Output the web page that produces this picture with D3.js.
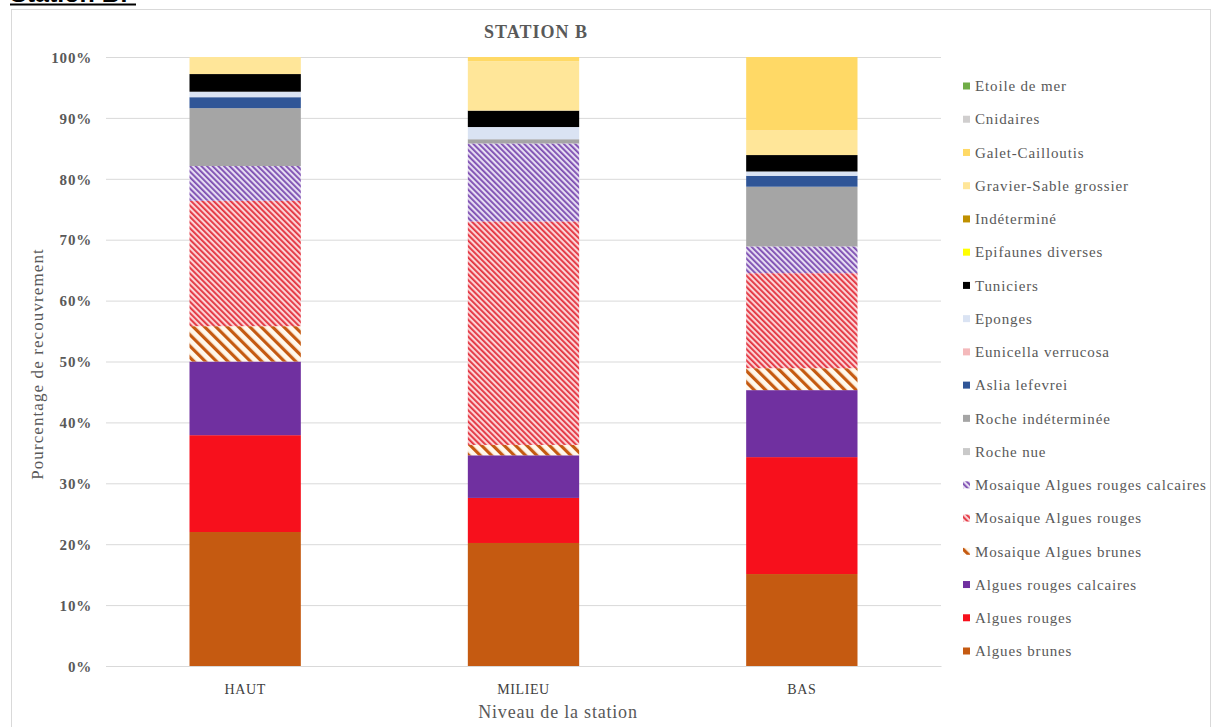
<!DOCTYPE html>
<html>
<head>
<meta charset="utf-8">
<script src="https://cdn.jsdelivr.net/npm/d3@7"></script>
<style>
  html, body { margin: 0; padding: 0; background: #fff; }
  svg { display: block; }
  text { font-family: "Liberation Serif", "DejaVu Serif", serif; }
</style>
</head>
<body>
<svg id="chart" width="1216" height="727"></svg>
<script>
// Station levels
const levels = ["HAUT", "MILIEU", "BAS"];

// Cover percentage per category, one value per level (HAUT, MILIEU, BAS)
const alguesBrunes            = [22.0, 20.2, 15.1];
const alguesRouges            = [15.9, 7.4, 19.2];
const alguesRougesCalcaires   = [12.1, 7.0, 11.0];
const mosaiqueAlguesBrunes    = [5.8, 1.7, 3.6];
const mosaiqueAlguesRouges    = [20.6, 36.7, 15.6];
const mosaiqueAlguesRougesCal = [5.7, 12.8, 4.4];
const rocheNue                = [0, 0, 0];
const rocheIndeterminee       = [9.5, 0.7, 9.8];
const asliaLefevrei           = [1.8, 0, 1.8];
const eunicellaVerrucosa      = [0, 0, 0];
const eponges                 = [0.9, 2.0, 0.7];
const tuniciers               = [2.9, 2.7, 2.7];
const epifaunesDiverses       = [0, 0, 0];
const indetermine             = [0, 0, 0];
const gravierSable            = [2.8, 8.1, 4.1];
const galetCailloutis         = [0, 0.7, 12.0];
const cnidaires               = [0, 0, 0];
const etoileDeMer             = [0, 0, 0];

// Y axis ticks
const yTicks = [0, 10, 20, 30, 40, 50, 60, 70, 80, 90, 100];

// Series in stacking order (bottom to top)
const series = [
  { name: "Algues brunes", values: alguesBrunes, color: "#C55A11" },
  { name: "Algues rouges", values: alguesRouges, color: "#F7101C" },
  { name: "Algues rouges calcaires", values: alguesRougesCalcaires, color: "#7030A0" },
  { name: "Mosaique Algues brunes", values: mosaiqueAlguesBrunes, pattern: "patBrunes" },
  { name: "Mosaique Algues rouges", values: mosaiqueAlguesRouges, pattern: "patRouges" },
  { name: "Mosaique Algues rouges calcaires", values: mosaiqueAlguesRougesCal, pattern: "patCalc" },
  { name: "Roche nue", values: rocheNue, color: "#C9C9C9" },
  { name: "Roche indéterminée", values: rocheIndeterminee, color: "#A5A5A5" },
  { name: "Aslia lefevrei", values: asliaLefevrei, color: "#2F5597" },
  { name: "Eunicella verrucosa", values: eunicellaVerrucosa, color: "#F4B9BB" },
  { name: "Eponges", values: eponges, color: "#DAE3F3" },
  { name: "Tuniciers", values: tuniciers, color: "#000000" },
  { name: "Epifaunes diverses", values: epifaunesDiverses, color: "#FFFF00" },
  { name: "Indéterminé", values: indetermine, color: "#BF9000" },
  { name: "Gravier-Sable grossier", values: gravierSable, color: "#FFE699" },
  { name: "Galet-Cailloutis", values: galetCailloutis, color: "#FFD966" },
  { name: "Cnidaires", values: cnidaires, color: "#D0CECE" },
  { name: "Etoile de mer", values: etoileDeMer, color: "#70AD47" }
];

const svg = d3.select("#chart");

// Hatch patterns
const defs = svg.append("defs");
function hatch(id, bg, fg, size, lineW) {
  const p = defs.append("pattern")
    .attr("id", id)
    .attr("patternUnits", "userSpaceOnUse")
    .attr("width", size).attr("height", size)
    .attr("patternTransform", "rotate(-45)");
  p.append("rect").attr("width", size).attr("height", size).attr("fill", bg);
  p.append("rect").attr("width", lineW).attr("height", size).attr("fill", fg);
}
hatch("patBrunes", "#FFF8EC", "#C55A11", 8, 3.2);
hatch("patRouges", "#FBD3D6", "#E3303C", 4, 1.8);
hatch("patCalc", "#E6DDF2", "#7B4BB0", 4, 1.8);

// Page heading (partly cut at the top edge)
svg.append("text")
  .attr("x", 10).attr("y", 1.5)
  .style("font-family", "'Liberation Sans', Arial, sans-serif")
  .attr("font-size", 25).attr("font-weight", "bold")
  .attr("fill", "#000")
  .text("Station B:");
svg.append("line")
  .attr("x1", 10).attr("x2", 136).attr("y1", 4.5).attr("y2", 4.5)
  .attr("stroke", "#000").attr("stroke-width", 2);

// Chart frame
svg.append("rect")
  .attr("x", 11.5).attr("y", 9.5)
  .attr("width", 1199).attr("height", 740)
  .attr("fill", "#fff").attr("stroke", "#D9D9D9").attr("stroke-width", 1);

// Scales
const plotLeft = 106, plotRight = 941, plotTop = 57, plotBottom = 666;
const x = d3.scaleBand().domain(levels).range([plotLeft, plotRight])
  .paddingInner(0.6).paddingOuter(0.3);
const y = d3.scaleLinear().domain([0, 100]).range([plotBottom, plotTop]);

// Gridlines
svg.append("g").selectAll("line").data(yTicks).join("line")
  .attr("x1", plotLeft).attr("x2", plotRight)
  .attr("y1", d => y(d) + 0.5).attr("y2", d => y(d) + 0.5)
  .attr("stroke", "#D9D9D9").attr("stroke-width", 1);

// Y axis
const yAxis = svg.append("g")
  .attr("transform", `translate(${plotLeft - 14},0)`)
  .call(d3.axisLeft(y).tickValues(yTicks).tickFormat(d => d + "%").tickSize(0));
yAxis.select(".domain").remove();
yAxis.selectAll("text")
  .attr("x", 0).attr("dy", "0.35em")
  .attr("font-size", 15).attr("font-weight", "bold")
  .attr("letter-spacing", 0.8)
  .attr("fill", "#595959")
  .style("font-family", "'Liberation Serif', serif");

// X axis
const xAxis = svg.append("g")
  .attr("transform", `translate(0,${plotBottom})`)
  .call(d3.axisBottom(x).tickSize(0));
xAxis.select(".domain").attr("stroke", "#D9D9D9");
xAxis.selectAll("text")
  .attr("y", 18).attr("dy", "0.71em")
  .attr("font-size", 14).attr("letter-spacing", 0.6)
  .attr("fill", "#404040")
  .style("font-family", "'Liberation Serif', serif");

// Stacked bars
const rows = levels.map((lv, i) => {
  const r = { level: lv };
  series.forEach(s => { r[s.name] = s.values[i]; });
  return r;
});
const stacked = d3.stack().keys(series.map(s => s.name))(rows);
const bars = svg.append("g");
stacked.forEach((layer, k) => {
  const s = series[k];
  bars.append("g")
    .attr("fill", s.pattern ? `url(#${s.pattern})` : s.color)
    .selectAll("rect").data(layer.filter(d => d[1] - d[0] > 0)).join("rect")
    .attr("x", d => x(d.data.level))
    .attr("width", x.bandwidth())
    .attr("y", d => y(d[1]))
    .attr("height", d => y(d[0]) - y(d[1]));
});

// Title
svg.append("text")
  .attr("x", 536).attr("y", 38)
  .attr("text-anchor", "middle")
  .attr("font-size", 18).attr("font-weight", "bold")
  .attr("letter-spacing", 1)
  .attr("fill", "#595959")
  .text("STATION B");

// Axis titles
svg.append("text")
  .attr("transform", `translate(43,364) rotate(-90)`)
  .attr("text-anchor", "middle")
  .attr("font-size", 17).attr("letter-spacing", 1.1)
  .attr("fill", "#595959")
  .text("Pourcentage de recouvrement");
svg.append("text")
  .attr("x", 558).attr("y", 718)
  .attr("text-anchor", "middle")
  .attr("font-size", 18).attr("letter-spacing", 0.8)
  .attr("fill", "#595959")
  .text("Niveau de la station");

// Legend (reverse of stacking order)
const legendItems = series.slice().reverse();
const ly = d3.scalePoint().domain(legendItems.map(s => s.name)).range([86, 651]);
const legend = svg.append("g").selectAll("g").data(legendItems).join("g")
  .attr("transform", s => `translate(963,${ly(s.name)})`);
legend.append("rect")
  .attr("x", 0).attr("y", -3.5).attr("width", 7).attr("height", 7)
  .attr("fill", s => s.pattern ? `url(#${s.pattern})` : s.color);
legend.append("text")
  .attr("x", 12).attr("dy", "0.35em")
  .attr("font-size", 15).attr("letter-spacing", 0.85)
  .attr("fill", "#595959")
  .text(s => s.name);
</script>
</body>
</html>
